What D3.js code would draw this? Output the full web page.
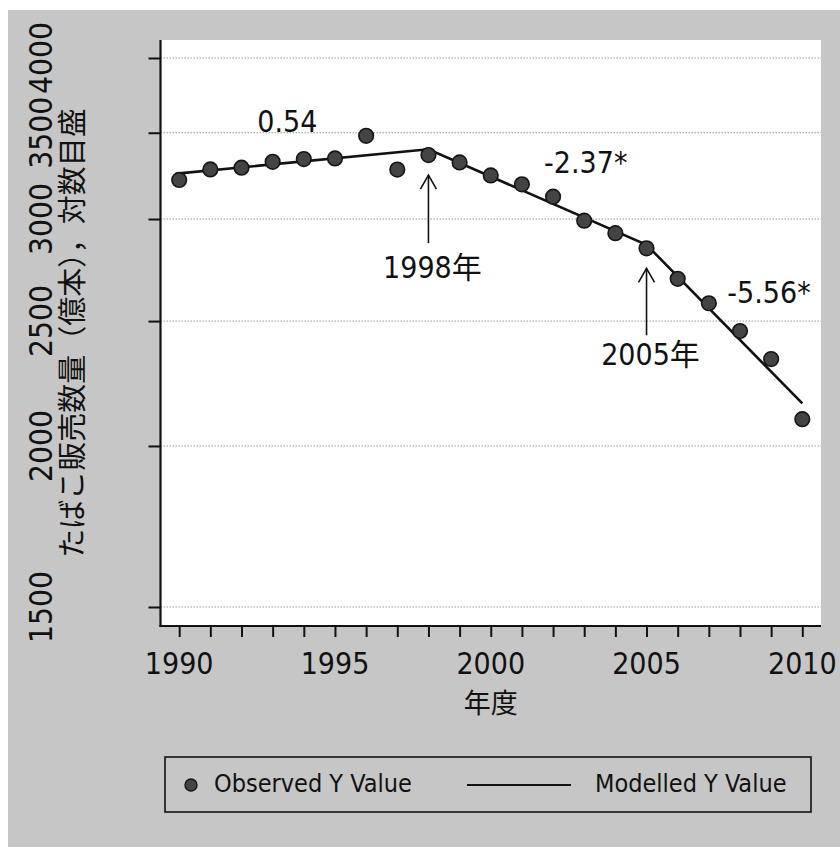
<!DOCTYPE html>
<html>
<head>
<meta charset="utf-8">
<script src="https://cdn.jsdelivr.net/npm/d3@7/dist/d3.min.js"></script>
<style>
  html, body { margin: 0; padding: 0; background: #fff; }
  svg { display: block; }
  text { font-family: "DejaVu Sans Condensed", "DejaVu Sans", "Noto Sans CJK JP", sans-serif; font-stretch: condensed; fill: #111; }
  .jp { font-family: "Noto Sans CJK JP", sans-serif; }
</style>
</head>
<body>
<svg id="chart" width="840" height="847"></svg>
<script>
// Annual cigarette sales in Japan (hundred million sticks), fiscal years
const years = [1990, 1991, 1992, 1993, 1994, 1995, 1996, 1997, 1998, 1999, 2000,
               2001, 2002, 2003, 2004, 2005, 2006, 2007, 2008, 2009, 2010];
const sales = [3217, 3278, 3288, 3323, 3339, 3343, 3481, 3277, 3363, 3319, 3243,
               3192, 3122, 2991, 2925, 2847, 2696, 2581, 2456, 2336, 2098];

// Joinpoint regression fit: values at the segment joins
const modelYears = [1990, 1998, 2005, 2010];
const modelValues = [3255, 3398, 2865, 2158];

// Annual percent change per segment
const segmentLabels = ["0.54", "-2.37*", "-5.56*"];
const joinYears = [1998, 2005];
const joinLabels = ["1998年", "2005年"];

const yTicks = [1500, 2000, 2500, 3000, 3500, 4000];
const xTicks = d3.range(1990, 2011);
const xLabelTicks = [1990, 1995, 2000, 2005, 2010];

const svg = d3.select("#chart");
const W = 840, H = 847;
const plot = { left: 160.5, right: 821, top: 40, bottom: 626 };

const x = d3.scaleLinear().domain([1989.4, 2010.6]).range([plot.left, plot.right]);
const y = d3.scaleLog().domain([1500, 4000]).range([607, 58]);

// outer panel
svg.append("rect").attr("x", 8).attr("y", 10).attr("width", W - 8).attr("height", H - 10)
  .attr("fill", "#c6c6c6");
// plot region
svg.append("rect").attr("x", plot.left).attr("y", plot.top)
  .attr("width", plot.right - plot.left).attr("height", plot.bottom - plot.top)
  .attr("fill", "#ffffff");

// gridlines
svg.append("g").selectAll("line").data(yTicks).join("line")
  .attr("x1", plot.left).attr("x2", plot.right)
  .attr("y1", d => y(d)).attr("y2", d => y(d))
  .attr("stroke", "#9a9a9a").attr("stroke-width", 1).attr("stroke-dasharray", "1.5,1.5");

// y axis ticks
const yAxis = svg.append("g").attr("transform", `translate(${plot.left},0)`)
  .call(d3.axisLeft(y).tickValues(yTicks).tickFormat("").tickSize(12).tickSizeOuter(0));
yAxis.select(".domain").remove();
yAxis.selectAll(".tick line").attr("stroke", "#111").attr("stroke-width", 2);

// y tick labels, rotated
svg.append("g").selectAll("text").data(yTicks).join("text")
  .attr("transform", d => `translate(52,${y(d)}) rotate(-90)`)
  .attr("text-anchor", "middle")
  .attr("font-size", 31.5)
  .text(d => d);

// x axis ticks
const xAxis = svg.append("g").attr("transform", `translate(0,${plot.bottom})`)
  .call(d3.axisBottom(x).tickValues(xTicks).tickFormat("").tickSize(11).tickSizeOuter(0));
xAxis.select(".domain").remove();
xAxis.selectAll(".tick line").attr("stroke", "#111").attr("stroke-width", 2);

svg.append("g").selectAll("text").data(xLabelTicks).join("text")
  .attr("x", d => x(d)).attr("y", 674)
  .attr("text-anchor", "middle").attr("font-size", 30)
  .text(d => d);

// axis lines
svg.append("line").attr("x1", plot.left).attr("x2", plot.left)
  .attr("y1", plot.top).attr("y2", plot.bottom + 1)
  .attr("stroke", "#111").attr("stroke-width", 2.2);
svg.append("line").attr("x1", plot.left - 1).attr("x2", plot.right)
  .attr("y1", plot.bottom).attr("y2", plot.bottom)
  .attr("stroke", "#111").attr("stroke-width", 2.2);

// axis titles
svg.append("text").attr("class", "jp")
  .attr("x", (plot.left + plot.right) / 2).attr("y", 713)
  .attr("text-anchor", "middle").attr("font-size", 27)
  .text("年度");
svg.append("text").attr("class", "jp")
  .attr("transform", `translate(83,${(plot.top + plot.bottom) / 2}) rotate(-90)`)
  .attr("text-anchor", "middle").attr("font-size", 29)
  .text("たばこ販売数量（億本），対数目盛");

// modelled line
const line = d3.line().x(d => x(d[0])).y(d => y(d[1]));
svg.append("path")
  .datum(modelYears.map((yr, i) => [yr, modelValues[i]]))
  .attr("d", line).attr("fill", "none")
  .attr("stroke", "#111").attr("stroke-width", 2.6);

// observed points
svg.append("g").selectAll("circle").data(years.map((yr, i) => [yr, sales[i]])).join("circle")
  .attr("cx", d => x(d[0])).attr("cy", d => y(d[1])).attr("r", 7.3)
  .attr("fill", "#444").attr("stroke", "#151515").attr("stroke-width", 1.6);

// segment slope labels, placed beside each segment
const segAnchor = [
  { year: 1993.47, value: 3506 },
  { year: 2003.05, value: 3255 },
  { year: 2008.93, value: 2584 }
];
svg.append("g").selectAll("text").data(segmentLabels).join("text")
  .attr("x", (d, i) => x(segAnchor[i].year)).attr("y", (d, i) => y(segAnchor[i].value))
  .attr("text-anchor", "middle").attr("font-size", 30)
  .text(d => d);

// join-point arrows and labels
const arrowTopGap = [20, 20], arrowLen = [68, 67], labelGap = [35, 30];
joinYears.forEach((yr, i) => {
  const idx = years.indexOf(yr);
  const ax = x(yr);
  const tip = y(sales[idx]) + arrowTopGap[i];
  const g = svg.append("g");
  g.append("line").attr("x1", ax).attr("x2", ax).attr("y1", tip).attr("y2", tip + arrowLen[i])
    .attr("stroke", "#111").attr("stroke-width", 1.6);
  g.append("path")
    .attr("d", `M${ax - 8},${tip + 14} L${ax},${tip} L${ax + 8},${tip + 14}`)
    .attr("fill", "none").attr("stroke", "#111").attr("stroke-width", 1.6);
  g.append("text").attr("x", ax + 4).attr("y", tip + arrowLen[i] + labelGap[i])
    .attr("text-anchor", "middle").attr("font-size", 30)
    .text(joinLabels[i]);
});

// legend
const lg = svg.append("g");
lg.append("rect").attr("x", 165).attr("y", 757).attr("width", 646).attr("height", 55)
  .attr("fill", "none").attr("stroke", "#111").attr("stroke-width", 1.6);
lg.append("circle").attr("cx", 191).attr("cy", 785).attr("r", 6)
  .attr("fill", "#444").attr("stroke", "#151515").attr("stroke-width", 1.4);
lg.append("text").attr("x", 214).attr("y", 792).attr("font-size", 25).text("Observed Y Value");
lg.append("line").attr("x1", 467).attr("x2", 571).attr("y1", 785).attr("y2", 785)
  .attr("stroke", "#111").attr("stroke-width", 2);
lg.append("text").attr("x", 595).attr("y", 792).attr("font-size", 25).text("Modelled Y Value");
</script>
</body>
</html>
